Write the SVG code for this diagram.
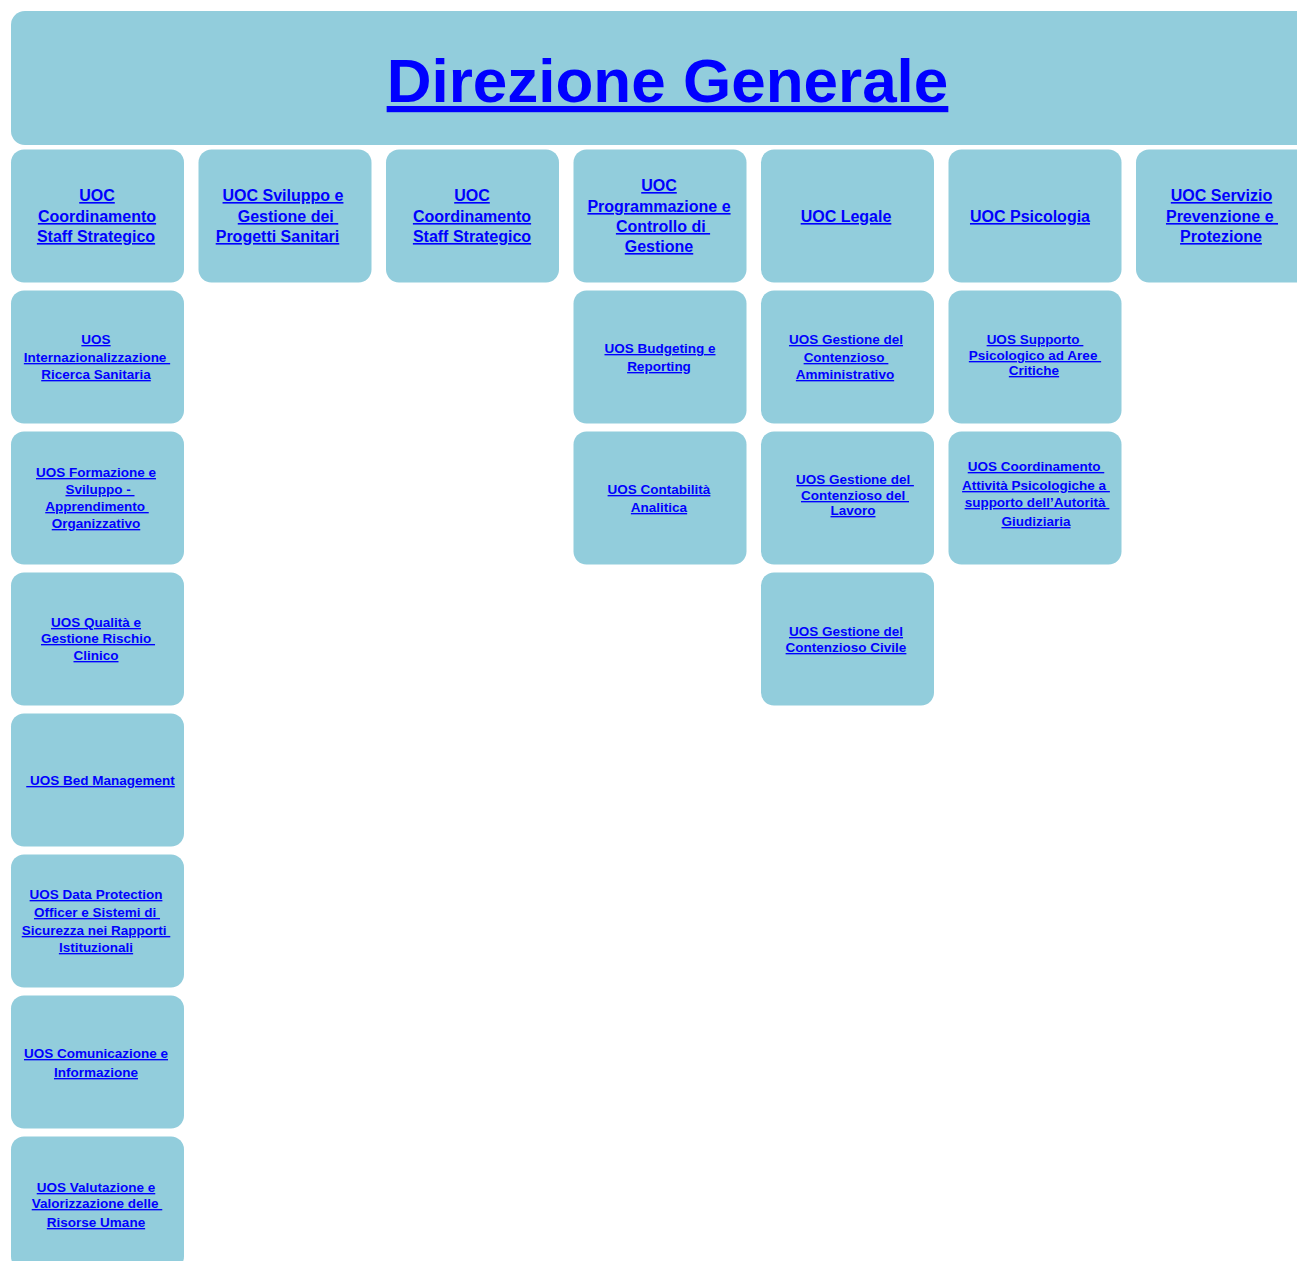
<svg xmlns="http://www.w3.org/2000/svg" width="1297" height="1261" viewBox="0 0 1297 1261">
<style>
.box{fill:#92CDDC}
.t{font-family:"Liberation Sans",Arial,sans-serif;font-weight:bold;fill:#0000FF;text-decoration:underline;text-anchor:middle}
.uoc{font-size:16px}
.uos{font-size:13.5px}
.title{font-size:62px}
</style>
<rect width="1297" height="1261" fill="#FFFFFF"/>
<g id="connectors"/>
<g id="direzione-generale">
<rect class="box" x="11" y="11" width="1310" height="134" rx="14"/>
<text class="t title" x="667.5" y="102">Direzione Generale</text>
</g>
<g id="uoc-coordinamento-1">
<rect class="box" x="11" y="149.5" width="173" height="133" rx="13"/>
<text class="t uoc" xml:space="preserve"><tspan x="97" y="201">UOC</tspan><tspan x="97" y="222">Coordinamento</tspan><tspan x="96" y="242">Staff Strategico</tspan></text>
</g>
<g id="uoc-sviluppo">
<rect class="box" x="198.5" y="149.5" width="173" height="133" rx="13"/>
<text class="t uoc" xml:space="preserve"><tspan x="283" y="201">UOC Sviluppo e</tspan><tspan x="288" y="222">Gestione dei </tspan><tspan x="277.5" y="242">Progetti Sanitari</tspan></text>
</g>
<g id="uoc-coordinamento-2">
<rect class="box" x="386" y="149.5" width="173" height="133" rx="13"/>
<text class="t uoc" xml:space="preserve"><tspan x="472" y="201">UOC</tspan><tspan x="472" y="222">Coordinamento</tspan><tspan x="472" y="242">Staff Strategico</tspan></text>
</g>
<g id="uoc-programmazione">
<rect class="box" x="573.5" y="149.5" width="173" height="133" rx="13"/>
<text class="t uoc" xml:space="preserve"><tspan x="659" y="191">UOC</tspan><tspan x="659" y="212">Programmazione e</tspan><tspan x="663" y="232">Controllo di </tspan><tspan x="659" y="252">Gestione</tspan></text>
</g>
<g id="uoc-legale">
<rect class="box" x="761" y="149.5" width="173" height="133" rx="13"/>
<text class="t uoc" x="846" y="222">UOC Legale</text>
</g>
<g id="uoc-psicologia">
<rect class="box" x="948.5" y="149.5" width="173" height="133" rx="13"/>
<text class="t uoc" x="1030" y="222">UOC Psicologia</text>
</g>
<g id="uoc-servizio-prevenzione">
<rect class="box" x="1136" y="149.5" width="173" height="133" rx="13"/>
<text class="t uoc" xml:space="preserve"><tspan x="1221.5" y="201">UOC Servizio</tspan><tspan x="1222" y="222">Prevenzione e </tspan><tspan x="1221" y="242">Protezione</tspan></text>
</g>
<g id="uos-internazionalizzazione">
<rect class="box" x="11" y="290.5" width="173" height="133" rx="13"/>
<text class="t uos" xml:space="preserve"><tspan x="96" y="344">UOS</tspan><tspan x="97" y="362">Internazionalizzazione </tspan><tspan x="96" y="379">Ricerca Sanitaria</tspan></text>
</g>
<g id="uos-formazione">
<rect class="box" x="11" y="431.5" width="173" height="133" rx="13"/>
<text class="t uos" xml:space="preserve"><tspan x="96" y="477">UOS Formazione e</tspan><tspan x="100" y="494">Sviluppo - </tspan><tspan x="97" y="511">Apprendimento </tspan><tspan x="96" y="528">Organizzativo</tspan></text>
</g>
<g id="uos-qualita">
<rect class="box" x="11" y="572.5" width="173" height="133" rx="13"/>
<text class="t uos" xml:space="preserve"><tspan x="96" y="627">UOS Qualità e</tspan><tspan x="98" y="643">Gestione Rischio </tspan><tspan x="96" y="660">Clinico</tspan></text>
</g>
<g id="uos-bed-management">
<rect class="box" x="11" y="713.5" width="173" height="133" rx="13"/>
<text class="t uos" xml:space="preserve" x="100.5" y="785"> UOS Bed Management</text>
</g>
<g id="uos-data-protection">
<rect class="box" x="11" y="854.5" width="173" height="133" rx="13"/>
<text class="t uos" xml:space="preserve"><tspan x="96" y="899">UOS Data Protection</tspan><tspan x="97" y="917">Officer e Sistemi di </tspan><tspan x="96" y="935">Sicurezza nei Rapporti </tspan><tspan x="96" y="952">Istituzionali</tspan></text>
</g>
<g id="uos-comunicazione">
<rect class="box" x="11" y="995.5" width="173" height="133" rx="13"/>
<text class="t uos" xml:space="preserve"><tspan x="96" y="1058">UOS Comunicazione e</tspan><tspan x="96" y="1077">Informazione</tspan></text>
</g>
<g id="uos-valutazione">
<rect class="box" x="11" y="1136.5" width="173" height="133" rx="13"/>
<text class="t uos" xml:space="preserve"><tspan x="96" y="1192">UOS Valutazione e</tspan><tspan x="97" y="1208">Valorizzazione delle </tspan><tspan x="96" y="1227">Risorse Umane</tspan></text>
</g>
<g id="uos-budgeting">
<rect class="box" x="573.5" y="290.5" width="173" height="133" rx="13"/>
<text class="t uos" xml:space="preserve"><tspan x="660" y="353">UOS Budgeting e</tspan><tspan x="659" y="371">Reporting</tspan></text>
</g>
<g id="uos-contabilita">
<rect class="box" x="573.5" y="431.5" width="173" height="133" rx="13"/>
<text class="t uos" xml:space="preserve"><tspan x="659" y="494">UOS Contabilità</tspan><tspan x="659" y="512">Analitica</tspan></text>
</g>
<g id="uos-contenzioso-amministrativo">
<rect class="box" x="761" y="290.5" width="173" height="133" rx="13"/>
<text class="t uos" xml:space="preserve"><tspan x="846" y="344">UOS Gestione del</tspan><tspan x="846" y="362">Contenzioso </tspan><tspan x="845" y="379">Amministrativo</tspan></text>
</g>
<g id="uos-contenzioso-lavoro">
<rect class="box" x="761" y="431.5" width="173" height="133" rx="13"/>
<text class="t uos" xml:space="preserve"><tspan x="855" y="484">UOS Gestione del </tspan><tspan x="855" y="500">Contenzioso del </tspan><tspan x="853" y="515">Lavoro</tspan></text>
</g>
<g id="uos-contenzioso-civile">
<rect class="box" x="761" y="572.5" width="173" height="133" rx="13"/>
<text class="t uos" xml:space="preserve"><tspan x="846" y="636">UOS Gestione del</tspan><tspan x="846" y="652">Contenzioso Civile</tspan></text>
</g>
<g id="uos-supporto-psicologico">
<rect class="box" x="948.5" y="290.5" width="173" height="133" rx="13"/>
<text class="t uos" xml:space="preserve"><tspan x="1035" y="344">UOS Supporto </tspan><tspan x="1035" y="360">Psicologico ad Aree </tspan><tspan x="1034" y="375">Critiche</tspan></text>
</g>
<g id="uos-coordinamento-psicologiche">
<rect class="box" x="948.5" y="431.5" width="173" height="133" rx="13"/>
<text class="t uos" xml:space="preserve"><tspan x="1036" y="471">UOS Coordinamento </tspan><tspan x="1036" y="490">Attività Psicologiche a </tspan><tspan x="1037" y="507">supporto dell’Autorità </tspan><tspan x="1036" y="526">Giudiziaria</tspan></text>
</g>
</svg>
